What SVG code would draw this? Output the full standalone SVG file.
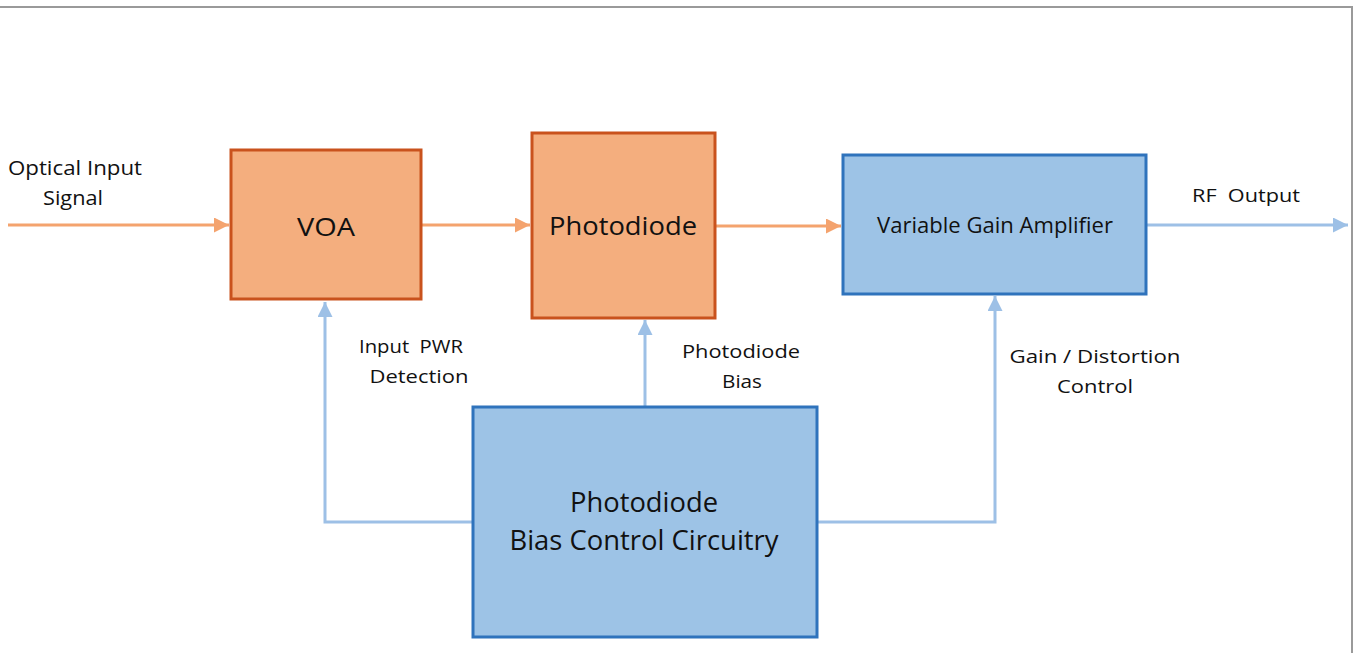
<svg xmlns="http://www.w3.org/2000/svg" width="1356" height="653" viewBox="0 0 1356 653">
  <defs>
    <marker id="arrOr" viewBox="0 0 10 10" refX="10" refY="5" markerWidth="5" markerHeight="5" markerUnits="strokeWidth" orient="auto">
      <path d="M0,0 L10,5 L0,10 z" fill="#F4A36E"/>
    </marker>
    <marker id="arrBl" viewBox="0 0 10 10" refX="10" refY="5" markerWidth="5" markerHeight="5" markerUnits="strokeWidth" orient="auto">
      <path d="M0,0 L10,5 L0,10 z" fill="#9DC0E6"/>
    </marker>
  </defs>
  <style>
    .orange { fill: #F4AE7E; stroke: #C9521D; stroke-width: 3; }
    .blue { fill: #9DC3E6; stroke: #2F73BC; stroke-width: 3; }
    .lbl { font-family: "Open Sans", "Liberation Sans", sans-serif; fill: #111; white-space: pre; }
    .cOr { fill: none; stroke: #F4A36E; stroke-width: 3; }
    .cBl { fill: none; stroke: #9DC0E6; stroke-width: 3; }
    .frame { stroke: #9A9A9A; stroke-width: 2; fill: none; }
  </style>
  <rect width="1356" height="653" fill="#FFFFFF"/>
  <path class="frame" d="M0,7 H1352 V653"/>

  <g id="connectors">
    <line class="cOr" x1="8" y1="225" x2="229" y2="225" marker-end="url(#arrOr)"/>
    <line class="cOr" x1="422" y1="225" x2="530" y2="225" marker-end="url(#arrOr)"/>
    <line class="cOr" x1="716" y1="226" x2="841" y2="226" marker-end="url(#arrOr)"/>
    <line class="cBl" x1="1147" y1="225" x2="1348" y2="225" marker-end="url(#arrBl)"/>
    <polyline class="cBl" points="472,522 325,522 325,302" marker-end="url(#arrBl)"/>
    <line class="cBl" x1="645" y1="406" x2="645" y2="320" marker-end="url(#arrBl)"/>
    <polyline class="cBl" points="818,522 995,522 995,296" marker-end="url(#arrBl)"/>
  </g>

  <g id="input-label">
    <text class="lbl" x="75" y="175" font-size="20" text-anchor="middle" textLength="134" lengthAdjust="spacingAndGlyphs">Optical Input</text>
    <text class="lbl" x="73" y="205" font-size="20" text-anchor="middle" textLength="60" lengthAdjust="spacingAndGlyphs">Signal</text>
  </g>

  <g id="voa">
    <rect class="orange" x="231" y="150" width="190" height="149"/>
    <text class="lbl" x="326" y="236" font-size="25" text-anchor="middle" textLength="58" lengthAdjust="spacingAndGlyphs">VOA</text>
  </g>

  <g id="photodiode">
    <rect class="orange" x="532" y="133" width="183" height="185"/>
    <text class="lbl" x="623" y="235" font-size="26" text-anchor="middle" textLength="148" lengthAdjust="spacingAndGlyphs">Photodiode</text>
  </g>

  <g id="vga">
    <rect class="blue" x="843" y="155" width="303" height="139"/>
    <text class="lbl" x="995" y="233" font-size="21" text-anchor="middle" textLength="236" lengthAdjust="spacingAndGlyphs">Variable Gain Amplifier</text>
  </g>

  <g id="rf-output-label">
    <text class="lbl" x="1246" y="202" font-size="19" text-anchor="middle" textLength="108" lengthAdjust="spacingAndGlyphs" xml:space="preserve">RF  Output</text>
  </g>

  <g id="input-pwr-label">
    <text class="lbl" x="411" y="353" font-size="19" text-anchor="middle" textLength="104" lengthAdjust="spacingAndGlyphs" xml:space="preserve">Input  PWR</text>
    <text class="lbl" x="419" y="383" font-size="19" text-anchor="middle" textLength="99" lengthAdjust="spacingAndGlyphs">Detection</text>
  </g>

  <g id="pd-bias-label">
    <text class="lbl" x="741" y="358" font-size="19" text-anchor="middle" textLength="118" lengthAdjust="spacingAndGlyphs">Photodiode</text>
    <text class="lbl" x="742" y="388" font-size="19" text-anchor="middle" textLength="40" lengthAdjust="spacingAndGlyphs">Bias</text>
  </g>

  <g id="gain-label">
    <text class="lbl" x="1095" y="363" font-size="19" text-anchor="middle" textLength="171" lengthAdjust="spacingAndGlyphs">Gain / Distortion</text>
    <text class="lbl" x="1095" y="393" font-size="19" text-anchor="middle" textLength="76" lengthAdjust="spacingAndGlyphs">Control</text>
  </g>

  <g id="bias-control">
    <rect class="blue" x="473" y="407" width="344" height="230"/>
    <text class="lbl" x="644" y="512" font-size="27" text-anchor="middle" textLength="148" lengthAdjust="spacingAndGlyphs">Photodiode</text>
    <text class="lbl" x="644" y="550" font-size="27" text-anchor="middle" textLength="269" lengthAdjust="spacingAndGlyphs">Bias Control Circuitry</text>
  </g>
</svg>
